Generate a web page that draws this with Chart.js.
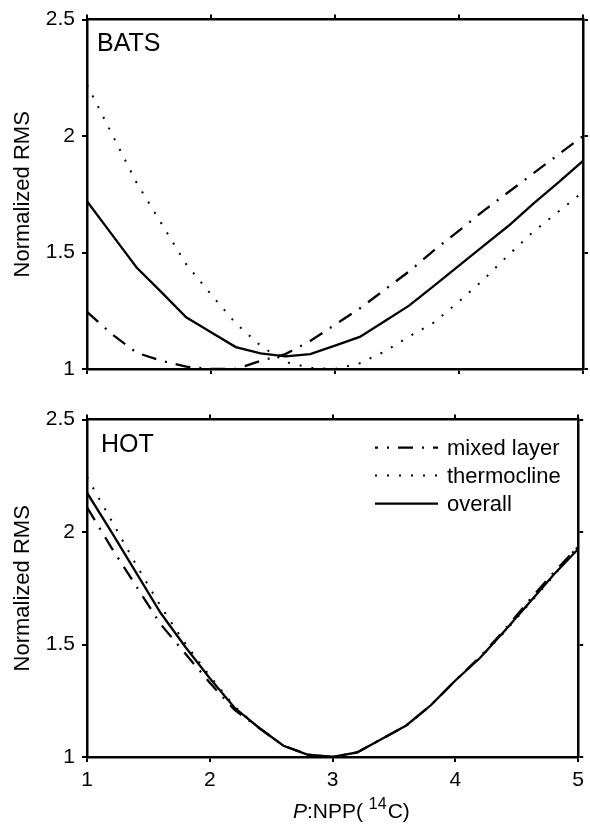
<!DOCTYPE html>
<html>
<head>
<meta charset="utf-8">
<script src="https://cdn.jsdelivr.net/npm/chart.js@4.4.1/dist/chart.umd.min.js"></script>
<style>
  html, body { margin: 0; padding: 0; background: #fff; }
  #wrap { position: relative; width: 590px; height: 827px; }
  #wrap canvas { position: absolute; left: 0; }
</style>
</head>
<body>
<div id="wrap">
  <canvas id="bats" width="590" height="400" style="top:0"></canvas>
  <canvas id="hot" width="590" height="427" style="top:400px"></canvas>
</div>
<script>
// x values (P:NPP ratio)
const xValues = [1, 1.2, 1.4, 1.6, 1.8, 2, 2.2, 2.4, 2.6, 2.8, 3, 3.2, 3.4, 3.6, 3.8, 4, 4.2, 4.4, 4.6, 4.8, 5];
const xTicks = [1, 2, 3, 4, 5];
const yTicks = [1, 1.5, 2, 2.5];

// BATS
const batsMixed   = [1.245, 1.15, 1.07, 1.035, 1.01, 1.0, 1.0, 1.035, 1.064, 1.12, 1.19, 1.26, 1.34, 1.42, 1.51, 1.594, 1.68, 1.76, 1.84, 1.92, 2.0];
const batsThermo  = [2.22, 2.01, 1.80, 1.625, 1.45, 1.32, 1.196, 1.10, 1.03, 1.005, 1.0, 1.025, 1.075, 1.14, 1.2, 1.29, 1.385, 1.49, 1.59, 1.675, 1.76];
const batsOverall = [1.72, 1.578, 1.436, 1.33, 1.222, 1.158, 1.094, 1.067, 1.054, 1.064, 1.10, 1.138, 1.205, 1.273, 1.358, 1.444, 1.53, 1.615, 1.71, 1.80, 1.893];

// HOT
const hotMixed   = [2.11, 1.93, 1.76, 1.59, 1.46, 1.33, 1.21, 1.13, 1.05, 1.01, 1.0, 1.02, 1.08, 1.14, 1.23, 1.34, 1.445, 1.565, 1.695, 1.82, 1.935];
const hotThermo  = [2.245, 2.05, 1.855, 1.67, 1.505, 1.36, 1.225, 1.13, 1.05, 1.01, 1.0, 1.02, 1.08, 1.14, 1.23, 1.34, 1.44, 1.555, 1.68, 1.805, 1.94];
const hotOverall = [2.175, 2.0, 1.82, 1.64, 1.49, 1.35, 1.22, 1.13, 1.05, 1.01, 1.0, 1.02, 1.08, 1.14, 1.23, 1.34, 1.44, 1.56, 1.685, 1.81, 1.925];

const seriesNames = ['mixed layer', 'thermocline', 'overall'];

const FONT = "'Liberation Sans', Arial, Helvetica, sans-serif";
const styles = [
  { borderDash: [15, 9, 2, 9], borderWidth: 2.3 },  // mixed layer (dash-dot)
  { borderDash: [2, 10], borderWidth: 2 },          // thermocline (dotted)
  { borderDash: [], borderWidth: 2.3 }              // overall
];

function makeDatasets(arrs) {
  return arrs.map((arr, i) => ({
    label: seriesNames[i],
    data: xValues.map((x, j) => ({ x: x, y: arr[j] })),
    borderColor: '#000',
    borderWidth: styles[i].borderWidth,
    borderDash: styles[i].borderDash,
    borderCapStyle: 'butt',
    pointRadius: 0,
    tension: 0,
    fill: false
  }));
}

// 目盛り（外向き）
const tickGrid = { drawOnChartArea: false, drawTicks: true, tickLength: 5, lineWidth: 2, color: '#000' };
const frame = { display: true, width: 2.5, color: '#000' };

function makeScales(opt) {
  return {
    x: {
      type: 'linear', position: 'bottom', min: 1, max: 5,
      afterBuildTicks: s => { s.ticks = xTicks.map(v => ({ value: v })); },
      ticks: { display: opt.xLabels, color: '#000', padding: 6, font: { family: FONT, size: 21 }, callback: v => String(v), maxRotation: 0 },
      grid: tickGrid, border: frame,
      afterFit: s => { s.height = opt.bottomH; }
    },
    x2: {
      type: 'linear', axis: 'x', position: 'top', min: 1, max: 5,
      afterBuildTicks: s => { s.ticks = xTicks.map(v => ({ value: v })); },
      ticks: { display: false },
      grid: tickGrid, border: frame,
      afterFit: s => { s.height = opt.topH; }
    },
    y: {
      type: 'linear', position: 'left', min: 1, max: 2.5,
      afterBuildTicks: s => { s.ticks = yTicks.map(v => ({ value: v })); },
      ticks: { color: '#000', padding: 7, font: { family: FONT, size: 21 }, callback: v => String(v) },
      grid: tickGrid, border: frame,
      title: { display: true, text: 'Normalized RMS', color: '#000', font: { family: FONT, size: 22 }, padding: { top: 10, bottom: 0 } },
      afterFit: s => { s.width = 87; }
    },
    y2: {
      type: 'linear', axis: 'y', position: 'right', min: 1, max: 2.5,
      afterBuildTicks: s => { s.ticks = yTicks.map(v => ({ value: v })); },
      ticks: { display: false },
      grid: tickGrid, border: frame,
      afterFit: s => { s.width = 7; }
    }
  };
}

// パネル名 (BATS / HOT)
const panelLabel = {
  id: 'panelLabel',
  afterDraw(chart, args, o) {
    const { ctx, chartArea } = chart;
    ctx.save();
    ctx.fillStyle = '#000';
    ctx.font = '25px ' + FONT;
    ctx.textBaseline = 'alphabetic';
    ctx.fillText(o.text, chartArea.left + o.dx, chartArea.top + o.dy);
    ctx.restore();
  }
};

// 凡例（右上）
const lineLegend = {
  id: 'lineLegend',
  afterDraw(chart, args, o) {
    if (!o.show) return;
    const { ctx, chartArea } = chart;
    const rows = [28, 56, 84];
    ctx.save();
    chart.data.datasets.forEach((ds, i) => {
      const y = chartArea.top + rows[i];
      ctx.beginPath();
      ctx.strokeStyle = '#000';
      ctx.lineWidth = ds.borderWidth;
      ctx.setLineDash(ds.borderDash);
      ctx.lineDashOffset = i === 0 ? 12 : 0;
      ctx.moveTo(375, y);
      ctx.lineTo(438, y);
      ctx.stroke();
      ctx.setLineDash([]);
      ctx.fillStyle = '#000';
      ctx.font = '22px ' + FONT;
      ctx.textBaseline = 'middle';
      ctx.fillText(ds.label, 447, y + 1);
    });
    ctx.restore();
  }
};

// x軸タイトル P:NPP(14C)
const xTitle = {
  id: 'xTitle',
  afterDraw(chart, args, o) {
    if (!o.show) return;
    const ctx = chart.ctx;
    const base = 418;
    let x = 293;
    ctx.save();
    ctx.fillStyle = '#000';
    ctx.textBaseline = 'alphabetic';
    ctx.font = 'italic 21px ' + FONT;
    ctx.fillText('P', x, base);
    x += ctx.measureText('P').width;
    ctx.font = '21px ' + FONT;
    ctx.fillText(':NPP( ', x, base);
    x += ctx.measureText(':NPP( ').width;
    ctx.font = '16px ' + FONT;
    ctx.fillText('14', x, base - 9);
    x += ctx.measureText('14').width + 1;
    ctx.font = '21px ' + FONT;
    ctx.fillText('C)', x, base);
    ctx.restore();
  }
};

const chartBats = new Chart(document.getElementById('bats'), {
  type: 'line',
  data: { datasets: makeDatasets([batsMixed, batsThermo, batsOverall]) },
  options: {
    responsive: false, animation: false, devicePixelRatio: 1,
    layout: { padding: 0 },
    scales: makeScales({ xLabels: false, topH: 18, bottomH: 31 }),
    plugins: {
      legend: { display: false }, tooltip: { enabled: false },
      panelLabel: { text: 'BATS', dx: 10, dy: 31 },
      lineLegend: { show: false },
      xTitle: { show: false }
    }
  },
  plugins: [panelLabel, lineLegend, xTitle]
});

const chartHot = new Chart(document.getElementById('hot'), {
  type: 'line',
  data: { datasets: makeDatasets([hotMixed, hotThermo, hotOverall]) },
  options: {
    responsive: false, animation: false, devicePixelRatio: 1,
    layout: { padding: 0 },
    scales: makeScales({ xLabels: true, topH: 5, bottomH: 70 }),
    plugins: {
      legend: { display: false }, tooltip: { enabled: false },
      panelLabel: { text: 'HOT', dx: 14, dy: 32 },
      lineLegend: { show: true },
      xTitle: { show: true }
    }
  },
  plugins: [panelLabel, lineLegend, xTitle]
});
</script>
</body>
</html>
